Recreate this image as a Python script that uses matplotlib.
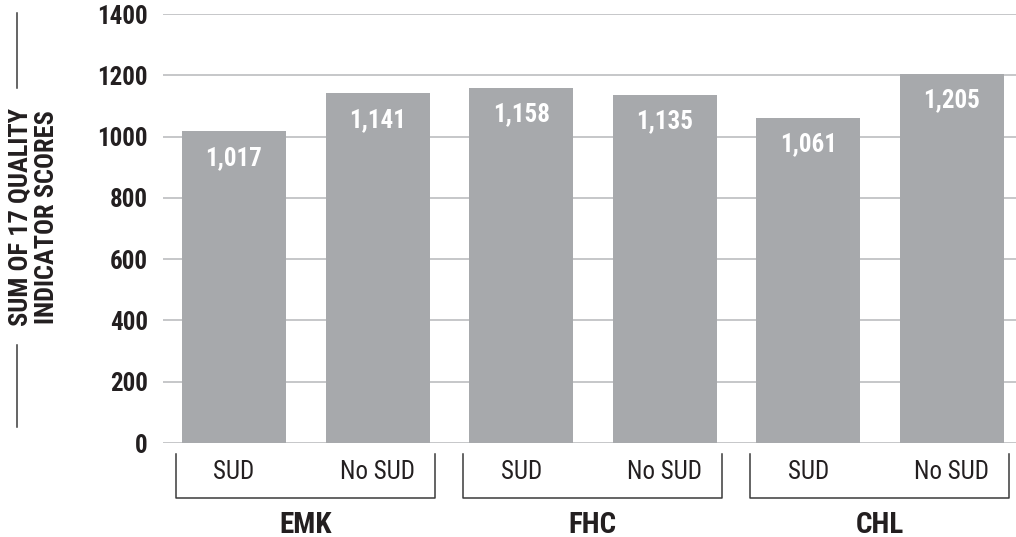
import matplotlib
matplotlib.use("Agg")
import matplotlib.pyplot as plt
from matplotlib.lines import Line2D
import matplotlib.transforms as mtransforms

plt.rcParams['font.family'] = ['Roboto Condensed', 'Liberation Sans', 'DejaVu Sans']

groups = ["EMK", "FHC", "CHL"]
subgroups = ["SUD", "No SUD"]
scores = [1017, 1141, 1158, 1135, 1061, 1205]
yticks = [0, 200, 400, 600, 800, 1000, 1200, 1400]

bar_color = "#a7a9ac"
grid_color = "#bcbec0"
text_color = "#231f20"

fig = plt.figure(figsize=(10.16, 5.37), dpi=100)
ax = fig.add_axes([0.1604, 0.1750, 0.8396, 0.7989])

x = list(range(len(scores)))
bars = ax.bar(x, scores, width=0.724, color=bar_color, zorder=2)

ax.set_xlim(-0.494, 5.446)
ax.set_ylim(0, 1400)
ax.set_yticks(yticks)
ax.set_yticklabels([str(t) for t in yticks], fontsize=18, fontweight='bold', color=text_color)
ax.tick_params(axis='y', length=0, pad=11)
ax.set_xticks([])
ax.yaxis.grid(True, color=grid_color, linewidth=1.2, zorder=0)
for s in ax.spines.values():
    s.set_visible(False)

# value labels inside bar tops
for b, v in zip(bars, scores):
    ax.annotate(f"{v:,}", (b.get_x() + b.get_width() / 2, v), xytext=(0, -19),
                textcoords="offset points", ha='center', va='center',
                color='white', fontsize=18, fontweight='bold', zorder=3)

# group brackets and labels under the axis
trans = mtransforms.blended_transform_factory(ax.transData, ax.transAxes)
y_top, y_bot = -0.0256, -0.128
for g, name in enumerate(groups):
    left = 2 * g - 0.406
    right = 2 * g + 1 + 0.40
    ax.add_line(Line2D([left, left, right, right], [y_top, y_bot, y_bot, y_top],
                       transform=trans, color="#3a3a3a", linewidth=1.1, clip_on=False))
    for k, sub in enumerate(subgroups):
        ax.text(2 * g + k, -0.068, sub, transform=trans, ha='center', va='center',
                fontsize=18, color=text_color)
    ax.text(2 * g + 0.5, -0.191, name, transform=trans, ha='center', va='center',
            fontsize=21, fontweight='bold', color=text_color)

# y axis title with rules above and below
fig.text(34 / 1016, 1 - 217 / 537, "SUM OF 17 QUALITY\nINDICATOR SCORES", rotation=90,
         ha='center', va='center', fontsize=19, fontweight='bold', color=text_color,
         linespacing=1.15)
for y0, y1 in [(13, 88), (345, 427)]:
    fig.add_artist(Line2D([17 / 1016, 17 / 1016], [1 - y0 / 537, 1 - y1 / 537],
                          transform=fig.transFigure, color="#3a3a3a", linewidth=1.1))

fig.savefig("out.png", dpi=100)
